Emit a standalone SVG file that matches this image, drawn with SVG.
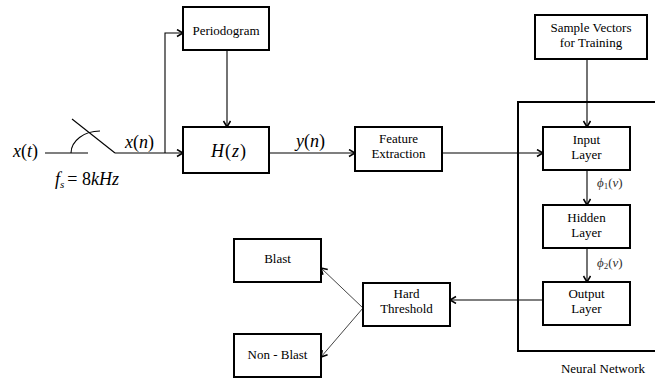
<svg xmlns="http://www.w3.org/2000/svg" width="655" height="380" viewBox="0 0 655 380">
<style>
text{font-family:"Liberation Serif","DejaVu Serif",serif}
.box{fill:#fff;stroke:#000;stroke-width:2}
.t{font-size:13px;fill:#000;text-anchor:middle}
.m{font-size:18px;font-style:italic;fill:#000}
.s{font-size:13px;font-style:italic;fill:#333}
.up{font-style:normal}
.c{fill:none;stroke:#000;stroke-width:1.1}
.g{fill:none;stroke:#444;stroke-width:1}
</style>
<defs>
<marker id="a" markerWidth="10" markerHeight="10" refX="7" refY="4" orient="auto" markerUnits="userSpaceOnUse">
<path d="M1,0.5 L7,4 L1,7.5" fill="none" stroke="#000" stroke-width="1.5"/>
</marker>
</defs>
<g id="connectors">
<path class="c" d="M45,153 H88"/>
<path class="c" d="M72,119 L115,153"/>
<path class="c" d="M71,153 A29,22 0 0 1 100,131"/>
<path class="c" d="M115,153 H183" marker-end="url(#a)"/>
<path class="c" d="M165,153 V33 H183" marker-end="url(#a)"/>
<path class="c" d="M227,50 V127" marker-end="url(#a)"/>
<path class="c" d="M269,153 H355" marker-end="url(#a)"/>
<path class="c" d="M442,153 H543" marker-end="url(#a)"/>
<path class="c" d="M587,59 V127" marker-end="url(#a)"/>
<path class="c" d="M587,170 V205" marker-end="url(#a)"/>
<path class="c" d="M587,248 V282" marker-end="url(#a)"/>
<path class="c" d="M543,300 H450" marker-end="url(#a)"/>
<path class="g" d="M363,308 L321,268" marker-end="url(#a)"/>
<path class="g" d="M363,308 L321,357" marker-end="url(#a)"/>
</g>
<g id="labels">
<text class="m" x="13" y="157">x<tspan class="up">(</tspan>t<tspan class="up">)</tspan></text>
<text class="m" x="55" y="185">f<tspan font-size="11" dy="3">s</tspan><tspan class="up" dy="-3" dx="3">= 8</tspan>kHz</text>
<text class="m" x="125" y="148">x<tspan class="up">(</tspan>n<tspan class="up">)</tspan></text>
<text class="m" x="296" y="147">y<tspan class="up">(</tspan>n<tspan class="up">)</tspan></text>
<text class="s" x="597" y="187">ϕ<tspan font-size="9" dy="2" class="up">1</tspan><tspan class="up" dy="-2">(</tspan>v<tspan class="up">)</tspan></text>
<text class="s" x="597" y="267">ϕ<tspan font-size="9" dy="2" class="up">2</tspan><tspan class="up" dy="-2">(</tspan>v<tspan class="up">)</tspan></text>
</g>
<g id="nn">
<rect x="518" y="102" width="140" height="249" fill="none" stroke="#000" stroke-width="2"/>
<text class="t" x="603" y="373">Neural Network</text>
</g>
<g id="periodogram">
<rect class="box" x="183" y="7" width="86" height="43"/>
<text class="t" x="226" y="35">Periodogram</text>
</g>
<g id="hz">
<rect class="box" x="183" y="127" width="86" height="46"/>
<text class="m" x="229" y="157" text-anchor="middle" letter-spacing="1">H<tspan class="up">(</tspan>z<tspan class="up">)</tspan></text>
</g>
<g id="feature">
<rect class="box" x="355" y="127" width="87" height="44"/>
<text class="t" x="398.5" y="143">Feature</text>
<text class="t" x="398.5" y="158">Extraction</text>
</g>
<g id="sample">
<rect class="box" x="535" y="15" width="112" height="44"/>
<text class="t" x="591" y="32">Sample Vectors</text>
<text class="t" x="591" y="47">for Training</text>
</g>
<g id="input">
<rect class="box" x="543" y="127" width="87" height="43"/>
<text class="t" x="586.5" y="144">Input</text>
<text class="t" x="586.5" y="159">Layer</text>
</g>
<g id="hidden">
<rect class="box" x="543" y="205" width="87" height="43"/>
<text class="t" x="586.5" y="222">Hidden</text>
<text class="t" x="586.5" y="237">Layer</text>
</g>
<g id="output">
<rect class="box" x="543" y="282" width="87" height="43"/>
<text class="t" x="586.5" y="298">Output</text>
<text class="t" x="586.5" y="313">Layer</text>
</g>
<g id="threshold">
<rect class="box" x="363" y="283" width="87" height="43"/>
<text class="t" x="406.5" y="298">Hard</text>
<text class="t" x="406.5" y="313">Threshold</text>
</g>
<g id="blast">
<rect class="box" x="234" y="239" width="87" height="43"/>
<text class="t" x="277.5" y="263">Blast</text>
</g>
<g id="nonblast">
<rect class="box" x="234" y="334" width="87" height="43"/>
<text class="t" x="277.5" y="359">Non - Blast</text>
</g>
</svg>
